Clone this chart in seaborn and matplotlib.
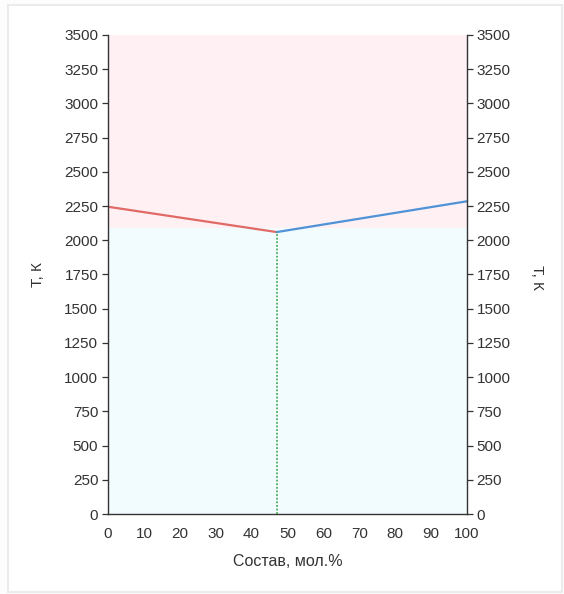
import matplotlib
matplotlib.use("Agg")
import matplotlib.pyplot as plt
import seaborn as sns
import pandas as pd
from matplotlib.patches import Rectangle

# Data
left_x = [0, 47]
left_T = [2245, 2060]
right_x = [47, 100]
right_T = [2060, 2285]
eut_x = [47, 47]
eut_T = [0, 2060]
liquid_T_range = [2090, 3500]
solid_T_range = [0, 2090]
x_ticks = list(range(0, 101, 10))
y_ticks = list(range(0, 3501, 250))

sns.set_theme(style="white")
plt.rcParams['font.family'] = ['Liberation Sans', 'DejaVu Sans']

fig = plt.figure(figsize=(5.64, 5.94), dpi=100)
fig.patch.set_facecolor("#fdfdfd")
fig.add_artist(Rectangle((8/564, 2/594), 554/564, 587/594, transform=fig.transFigure,
                         fill=True, facecolor="white", edgecolor="#ebebeb", lw=1.5, zorder=-1))
ax = fig.add_axes([108/564, 80/594, 359/564, 479/594])
ax.set_facecolor("none")

ax.axhspan(liquid_T_range[0], liquid_T_range[1], color="#fff0f4", lw=0, zorder=0)
ax.axhspan(solid_T_range[0], solid_T_range[1], color="#f2fbfe", lw=0, zorder=0)

df_l = pd.DataFrame({"x": left_x, "T": left_T})
df_r = pd.DataFrame({"x": right_x, "T": right_T})
df_e = pd.DataFrame({"x": eut_x, "T": eut_T})
sns.lineplot(data=df_l, x="x", y="T", ax=ax, color="#e06a66", lw=1.6, sort=False)
sns.lineplot(data=df_r, x="x", y="T", ax=ax, color="#4f92d6", lw=1.6, sort=False)
sns.lineplot(data=df_e, x="x", y="T", ax=ax, color="#4cae5a", lw=1.3, linestyle=(0, (1, 1)), sort=False, orient="y")

ax.set_xlim(0, 100)
ax.set_ylim(0, 3500)
ax.set_xticks(x_ticks)
ax.set_yticks(y_ticks)
ax.spines['top'].set_visible(False)
for s in ['left', 'bottom', 'right']:
    ax.spines[s].set_color("#333333")
    ax.spines[s].set_linewidth(1.0)
ax.tick_params(axis='x', direction='inout', length=6, width=0.9, color="#333333",
               labelsize=11, labelcolor="#333333", pad=6)
ax.tick_params(axis='y', direction='out', length=4, width=0.9, color="#333333",
               labelsize=11, labelcolor="#333333", pad=3,
               right=True, labelright=True, left=True, labelleft=True)
ax.set_xlabel("Состав, мол.%", fontsize=11.5, color="#333333", labelpad=10)
ax.set_ylabel("Т, К", fontsize=11, color="#333333", labelpad=14)
ax.yaxis.set_label_position("left")
fig.text(537/564, 1 - 277/594, "Т, К", rotation=270, fontsize=11, color="#333333",
         ha="center", va="center")
ax.grid(False)

fig.savefig("out.png", dpi=100)
